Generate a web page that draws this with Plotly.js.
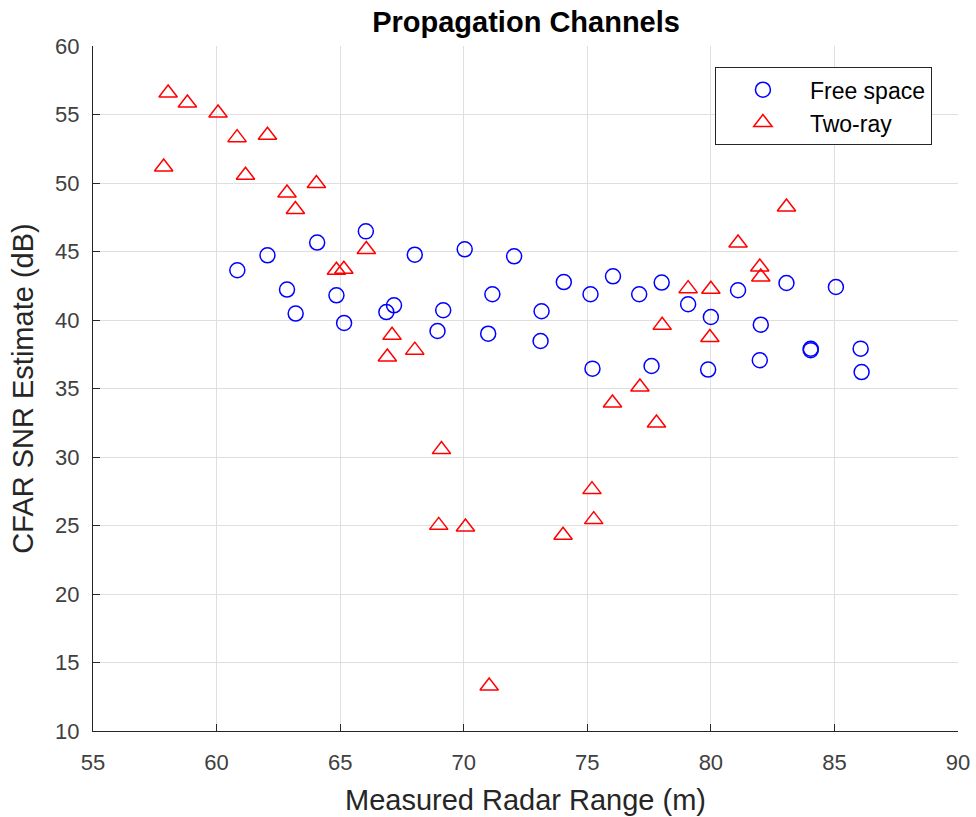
<!DOCTYPE html>
<html>
<head>
<meta charset="utf-8">
<script src="https://cdn.plot.ly/plotly-3.0.1.min.js"></script>
<style>html,body{margin:0;padding:0;background:#fff;}#chart{width:976px;height:817px;}</style>
</head>
<body>
<div id="chart"></div>
<script>
// Free space (circles)
const freeX = [60.84, 62.06, 64.07, 66.04, 68.02, 62.85, 63.2, 64.85, 65.16, 66.87, 67.18,
  70.04, 72.04, 69.17, 68.94, 71.16, 70.99, 73.15, 73.11, 74.05, 75.13, 76.04, 77.1, 78.01,
  79.08, 75.21, 77.6, 80.0, 81.1, 83.06, 85.06, 82.02, 79.89, 81.98, 84.04, 84.04, 86.06, 86.1];
const freeY = [43.63, 44.72, 45.65, 46.47, 44.77, 42.22, 40.47, 41.8, 39.78, 40.58, 41.07,
  45.16, 44.65, 40.71, 39.2, 41.88, 39.0, 40.64, 38.47, 42.77, 41.88, 43.19, 41.88, 42.73,
  41.15, 36.45, 36.64, 40.22, 42.17, 42.7, 42.41, 39.66, 36.38, 37.06, 37.9, 37.8, 37.91, 36.2];
// Two-ray (triangles)
const twoX = [58.04, 58.82, 60.06, 60.83, 62.06, 57.86, 61.17, 62.85, 63.19, 64.04, 66.06,
  64.85, 65.15, 67.1, 66.91, 68.02, 79.08, 78.03, 77.13, 76.02, 77.8, 83.06, 81.1, 81.98,
  82.02, 80.0, 79.96, 69.1, 75.19, 68.99, 70.07, 75.26, 74.02, 71.03];
const twoY = [56.57, 55.84, 55.11, 53.31, 53.48, 51.17, 50.56, 49.27, 48.06, 49.96, 45.14,
  43.63, 43.70, 38.88, 37.3, 37.8, 42.29, 39.61, 35.11, 33.94, 32.48, 48.25, 45.62, 43.87,
  43.14, 42.24, 38.72, 30.54, 27.62, 25.01, 24.89, 25.43, 24.29, 13.28];
const xTicks = [55, 60, 65, 70, 75, 80, 85, 90];
const yTicks = [10, 15, 20, 25, 30, 35, 40, 45, 50, 55, 60];

const FONT = "'Liberation Sans', Arial, Helvetica, sans-serif";
const traces = [
  {x: freeX, y: freeY, type: 'scatter', mode: 'markers', name: 'Free space', legendgroup: 'a',
   marker: {symbol: 'circle-open', size: 15, color: '#0000ff', line: {width: 1.5, color: '#0000ff'}}},
  {x: twoX, y: twoY, type: 'scatter', mode: 'markers', name: 'Two-ray', legendgroup: 'b',
   marker: {symbol: 'triangle-up-open', size: 16, color: '#ff0000', line: {width: 1.5, color: '#ff0000'}}}
];
const axisCommon = {
  showline: true, linecolor: '#262626', linewidth: 1,
  ticks: 'inside', ticklen: 7, tickcolor: '#262626', tickwidth: 1,
  showgrid: true, gridcolor: '#dfdfdf', gridwidth: 1,
  zeroline: false, mirror: false,
  tickfont: {family: FONT, size: 22, color: '#404040'},
  automargin: false
};
const layout = {
  width: 976, height: 817,
  margin: {l: 93, r: 18, t: 46, b: 86},
  paper_bgcolor: '#fff', plot_bgcolor: '#fff',
  title: {text: '<b>Propagation Channels</b>', font: {family: FONT, size: 29, color: '#000'},
          x: 0.539, xanchor: 'center', y: 0.973, yanchor: 'middle'},
  xaxis: Object.assign({}, axisCommon, {
    range: [55, 90], tickvals: xTicks, ticktext: xTicks.map(String), ticklabelstandoff: 12,
    title: {text: 'Measured Radar Range (m)', font: {family: FONT, size: 29, color: '#262626'}, standoff: 15}
  }),
  yaxis: Object.assign({}, axisCommon, {
    range: [10, 60], tickvals: yTicks, ticktext: yTicks.map(String), ticklabelstandoff: 8,
    title: {text: 'CFAR SNR Estimate (dB)', font: {family: FONT, size: 29, color: '#262626'}, standoff: 12}
  }),
  showlegend: true,
  legend: {
    x: 0.719, y: 0.969, xanchor: 'left', yanchor: 'top',
    bgcolor: '#fff', bordercolor: '#262626', borderwidth: 1,
    font: {family: FONT, size: 23, color: '#000'},
    itemwidth: 84, traceorder: 'grouped', tracegroupgap: 0
  }
};
Plotly.newPlot('chart', traces, layout, {displayModeBar: false, staticPlot: true});
</script>
</body>
</html>
